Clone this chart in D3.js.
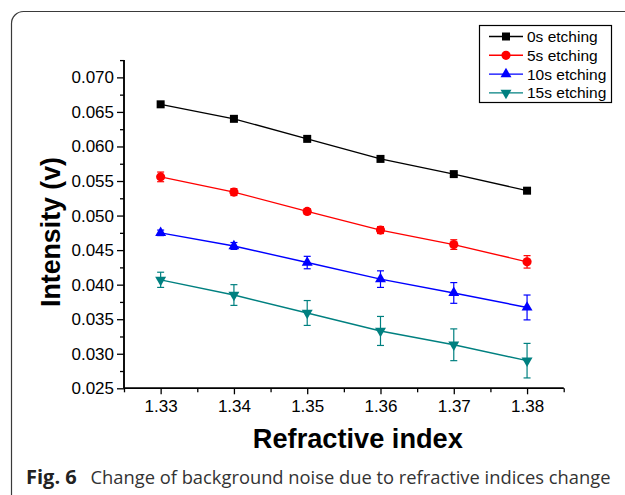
<!DOCTYPE html>
<html>
<head>
<meta charset="utf-8">
<script src="https://cdn.jsdelivr.net/npm/d3@7"></script>
<style>
  html, body { margin: 0; padding: 0; background: #fff; }
  svg { display: block; }
</style>
</head>
<body>
<svg id="chart" width="625" height="495"></svg>
<script>
// ---- data ----
const refractiveIndex = [1.33, 1.34, 1.35, 1.36, 1.37, 1.38];
const seriesNames = ["0s etching", "5s etching", "10s etching", "15s etching"];
const seriesColors = ["#000000", "#ff0000", "#0000ff", "#008080"];
const seriesSymbols = ["square", "circle", "triangle", "triangleDown"];
const etch0 = [0.0661, 0.0640, 0.0611, 0.0582, 0.0560, 0.0536];
const etch0Err = [0.0002, 0.0002, 0.0002, 0.0002, 0.0002, 0.0003];
const etch5 = [0.0556, 0.0534, 0.0506, 0.0479, 0.0458, 0.0433];
const etch5Err = [0.0007, 0.0005, 0.0004, 0.0005, 0.0007, 0.0009];
const etch10 = [0.0475, 0.0456, 0.0432, 0.0408, 0.0388, 0.0367];
const etch10Err = [0.0004, 0.0005, 0.0009, 0.0012, 0.0015, 0.0018];
const etch15 = [0.0407, 0.0385, 0.0359, 0.0333, 0.0313, 0.0290];
const etch15Err = [0.0011, 0.0015, 0.0018, 0.0021, 0.0023, 0.0025];
const xTicks = [1.33, 1.34, 1.35, 1.36, 1.37, 1.38];
const xMinorTicks = [1.325, 1.335, 1.345, 1.355, 1.365, 1.375, 1.385];
const yTicks = [0.025, 0.030, 0.035, 0.040, 0.045, 0.050, 0.055, 0.060, 0.065, 0.070];
const yMinorTicks = [0.0275, 0.0325, 0.0375, 0.0425, 0.0475, 0.0525, 0.0575, 0.0625, 0.0675, 0.0725];
const xTitle = "Refractive index";
const yTitle = "Intensity (v)";
const captionBold = "Fig. 6";
const captionText = "Change of background noise due to refractive indices change";

const seriesValues = [etch0, etch5, etch10, etch15];
const seriesErrors = [etch0Err, etch5Err, etch10Err, etch15Err];

// ---- layout ----
const svg = d3.select("#chart");
const font = "'Liberation Sans', Arial, Helvetica, sans-serif";

const x = d3.scaleLinear().domain([1.325, 1.385]).range([124, 563.7]);
const y = d3.scaleLinear().domain([0.025, 0.0725]).range([388.3, 60.1]);

// outer frame with rounded corner
svg.append("rect")
  .attr("x", 11.5).attr("y", 11.5)
  .attr("width", 700).attr("height", 495)
  .attr("rx", 12).attr("ry", 12)
  .attr("fill", "none").attr("stroke", "#3a3a3a").attr("stroke-width", 1.2);

// axes
const yAxisG = svg.append("g").attr("transform", `translate(${x.range()[0]},0)`);
yAxisG.call(d3.axisLeft(y).tickValues(yMinorTicks).tickSize(4).tickFormat(""));
yAxisG.append("g").call(d3.axisLeft(y).tickValues(yTicks).tickSize(7).tickPadding(3).tickFormat(d3.format(".3f")));

const xAxisG = svg.append("g").attr("transform", `translate(0,${y.range()[0]})`);
xAxisG.call(d3.axisBottom(x).tickValues(xMinorTicks).tickSize(4).tickFormat(""));
xAxisG.append("g").call(d3.axisBottom(x).tickValues(xTicks).tickSize(6).tickPadding(6).tickFormat(d3.format(".2f")));

svg.selectAll("g").attr("font-family", font);
svg.selectAll(".domain").attr("stroke", "#000").attr("stroke-width", 1.5);
svg.selectAll(".tick line").attr("stroke", "#000").attr("stroke-width", 1.3);
svg.selectAll(".tick text").attr("font-family", font).attr("font-size", 17).attr("fill", "#000");
yAxisG.selectAll(".domain").attr("d", `M0,${y.range()[1]}V${y.range()[0]}`);
xAxisG.selectAll(".domain").attr("d", `M${x.range()[0]},0H${x.range()[1]}`);

// axis titles
svg.append("text")
  .attr("x", (x(1.33) + x(1.38)) / 2 + 14).attr("y", 448)
  .attr("text-anchor", "middle")
  .attr("font-family", font).attr("font-weight", "bold").attr("font-size", 28)
  .attr("textLength", 210).attr("lengthAdjust", "spacingAndGlyphs")
  .text(xTitle);

svg.append("text")
  .attr("transform", `translate(60,232) rotate(-90)`)
  .attr("text-anchor", "middle")
  .attr("font-family", font).attr("font-weight", "bold").attr("font-size", 28)
  .attr("textLength", 150).attr("lengthAdjust", "spacingAndGlyphs")
  .text(yTitle);

// symbols
const symbolTypes = {
  square: d3.symbolSquare,
  circle: d3.symbolCircle,
  triangle: d3.symbolTriangle,
  triangleDown: d3.symbolTriangle
};
const symbolSizes = { square: 64, circle: 66, triangle: 52, triangleDown: 52 };
function symbolPath(name) {
  return d3.symbol().type(symbolTypes[name]).size(symbolSizes[name])();
}
function symbolTransform(name, px, py) {
  if (name === "triangleDown") return `translate(${px},${py}) rotate(180)`;
  return `translate(${px},${py})`;
}

const line = d3.line().x(d => x(d[0])).y(d => y(d[1]));

seriesValues.forEach((vals, si) => {
  const color = seriesColors[si];
  const sym = seriesSymbols[si];
  const pts = refractiveIndex.map((xi, i) => [xi, vals[i], seriesErrors[si][i]]);
  const g = svg.append("g");

  g.append("path").datum(pts).attr("d", line)
    .attr("fill", "none").attr("stroke", color).attr("stroke-width", 1.4);

  // error bars
  const eb = g.selectAll(".eb").data(pts).enter().append("g");
  eb.append("line")
    .attr("x1", d => x(d[0])).attr("x2", d => x(d[0]))
    .attr("y1", d => y(d[1] + d[2])).attr("y2", d => y(d[1] - d[2]))
    .attr("stroke", color).attr("stroke-width", 1.2);
  eb.append("line")
    .attr("x1", d => x(d[0]) - 3.5).attr("x2", d => x(d[0]) + 3.5)
    .attr("y1", d => y(d[1] + d[2])).attr("y2", d => y(d[1] + d[2]))
    .attr("stroke", color).attr("stroke-width", 1.2);
  eb.append("line")
    .attr("x1", d => x(d[0]) - 3.5).attr("x2", d => x(d[0]) + 3.5)
    .attr("y1", d => y(d[1] - d[2])).attr("y2", d => y(d[1] - d[2]))
    .attr("stroke", color).attr("stroke-width", 1.2);

  g.selectAll(".pt").data(pts).enter().append("path")
    .attr("d", symbolPath(sym))
    .attr("transform", d => symbolTransform(sym, x(d[0]), y(d[1])))
    .attr("fill", color);
});

// legend
const legend = svg.append("g");
legend.append("rect")
  .attr("x", 479.5).attr("y", 25.5).attr("width", 132).attr("height", 77)
  .attr("fill", "#fff").attr("stroke", "#000").attr("stroke-width", 1.2);
seriesNames.forEach((name, i) => {
  const ly = 36.5 + i * 18.8;
  legend.append("line")
    .attr("x1", 489).attr("x2", 523).attr("y1", ly).attr("y2", ly)
    .attr("stroke", seriesColors[i]).attr("stroke-width", 1.4);
  legend.append("path")
    .attr("d", symbolPath(seriesSymbols[i]))
    .attr("transform", symbolTransform(seriesSymbols[i], 506, ly))
    .attr("fill", seriesColors[i]);
  legend.append("text")
    .attr("x", 527).attr("y", ly + 5.5)
    .attr("font-family", font).attr("font-size", 15.5).attr("fill", "#000")
    .text(name);
});

// caption
svg.append("text")
  .attr("x", 26).attr("y", 483.5)
  .attr("font-family", "'Open Sans', 'Noto Sans', sans-serif").attr("font-weight", "bold").attr("font-size", 20)
  .attr("fill", "#222")
  .text(captionBold);
svg.append("text")
  .attr("x", 90.5).attr("y", 483.5)
  .attr("font-family", "'Open Sans', 'Noto Sans', sans-serif").attr("font-size", 18.5)
  .attr("fill", "#333")
  .attr("textLength", 520).attr("lengthAdjust", "spacingAndGlyphs")
  .text(captionText);
</script>
</body>
</html>
